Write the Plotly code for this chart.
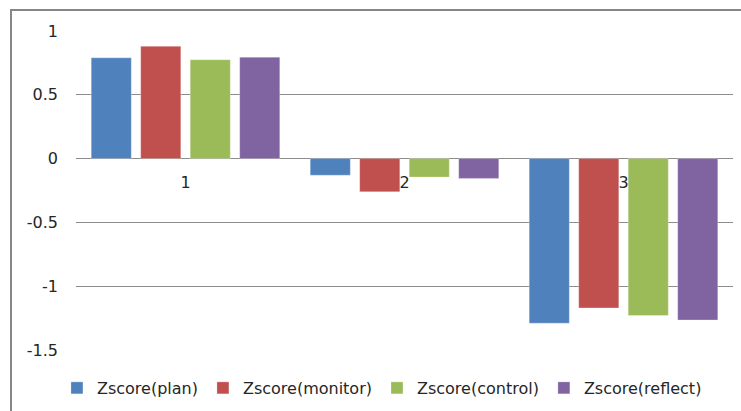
import plotly.graph_objects as go

categories = ["1", "2", "3"]
series_names = ["Zscore(plan)", "Zscore(monitor)", "Zscore(control)", "Zscore(reflect)"]
plan = [0.79, -0.13, -1.29]
monitor = [0.88, -0.26, -1.17]
control = [0.775, -0.145, -1.23]
reflect = [0.795, -0.155, -1.265]
colors = ["#4F81BD", "#C0504D", "#9BBB59", "#8064A2"]
y_ticks = [-1.5, -1, -0.5, 0, 0.5, 1]
y_ticktext = ["-1.5", "-1", "-0.5", "0", "0.5", "1"]

font_family = "DejaVu Sans, Verdana, sans-serif"
text_color = "#262626"
grid_color = "#8C8C8C"

fig = go.Figure()
for name, vals, col in zip(series_names, [plan, monitor, control, reflect], colors):
    fig.add_trace(go.Bar(
        x=categories, y=vals, name=name,
        marker=dict(color=col, line=dict(color="rgba(255,255,255,0.35)", width=0.8)),
    ))

# outer chart frame
fig.add_shape(type="rect", xref="paper", yref="paper",
              x0=-0.0989, x1=1.2, y0=-0.3, y1=1.0658,
              line=dict(color="#868686", width=2), fillcolor="rgba(0,0,0,0)", layer="below")

fig.update_layout(
    width=741, height=411,
    margin=dict(l=76, r=8, t=31, b=61, autoexpand=False),
    paper_bgcolor="white", plot_bgcolor="white",
    barmode="group", bargap=0.096, bargroupgap=0.19,
    font=dict(family=font_family, color=text_color, size=16),
    showlegend=True,
    legend=dict(orientation="h", x=-0.029, xanchor="left", y=-0.119, yanchor="middle",
                font=dict(size=16, color=text_color), itemwidth=30,
                bgcolor="rgba(0,0,0,0)"),
    xaxis=dict(type="category", anchor="free", position=0.6, showline=False,
               showgrid=False, ticks="", tickfont=dict(size=16),
               ticklabelstandoff=12, fixedrange=True, automargin=False),
    yaxis=dict(range=[-1.5, 1], tickvals=y_ticks, ticktext=y_ticktext,
               showgrid=True, gridcolor=grid_color, gridwidth=1,
               zeroline=True, zerolinecolor=grid_color, zerolinewidth=1,
               showline=False, ticks="", ticklabelstandoff=17, automargin=False,
               tickfont=dict(size=16)),
)

fig.write_html("out.html", config={"displayModeBar": False},
               post_script="document.body.style.margin='0';")
